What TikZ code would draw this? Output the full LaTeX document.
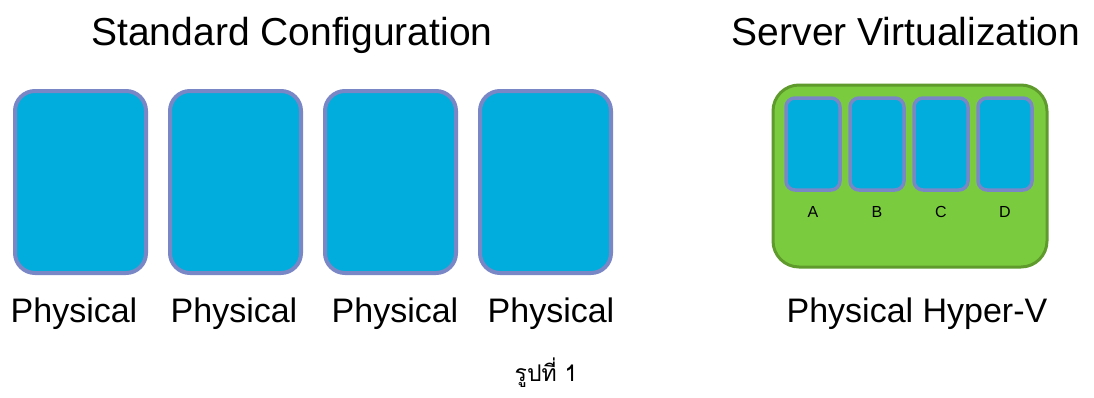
\documentclass[tikz,border=0pt]{standalone}
\usepackage{fontspec}
\setmainfont{Liberation Sans}
\newfontfamily\thaifont[Script=Thai]{Loma}
\definecolor{vmblue}{HTML}{00ADDC}
\definecolor{vmedge}{HTML}{7A87C6}
\definecolor{hostgreen}{HTML}{7ACC3E}
\definecolor{hostedge}{HTML}{5E9A2C}
\begin{document}
\begin{tikzpicture}[x=1pt,y=-1pt,
  server/.style={draw=vmedge, fill=vmblue, line width=4pt, rounded corners=20pt},
  guest/.style={draw=vmedge, fill=vmblue, line width=3.5pt, rounded corners=9pt},
  host/.style={draw=hostedge, fill=hostgreen, line width=3pt, rounded corners=26pt},
  title/.style={font=\fontsize{39}{44}\selectfont, anchor=base, inner sep=0pt},
  caption/.style={font=\fontsize{34}{40}\selectfont, anchor=base, inner sep=0pt},
  tag/.style={font=\fontsize{16}{18}\selectfont, anchor=base, inner sep=0pt}]
\useasboundingbox (0,0) rectangle (1094,397);
% standard configuration: four physical servers
\foreach \i/\x/\c in {1/15/74,2/170/234,3/325/395,4/480/551}{
  \draw[server] (\x,91) rectangle ++(131,182);
  \node[caption] (p\i) at (\c,322) {Physical};
}
\node[title] (t1) at (292,45) {Standard Configuration};
% virtualized host with four guests
\draw[host] (773,85) rectangle (1047,267);
\foreach \i/\x/\l in {1/786/A,2/850/B,3/914/C,4/978/D}{
  \draw[guest] (\x,98) rectangle ++(54,92);
  \node[tag] (g\i) at (\x+27,217) {\l};
}
\node[title] (t2) at (906,45) {Server Virtualization};
\node[caption] (p5) at (917,322) {Physical Hyper-V};
\node[font=\thaifont\fontsize{23}{26}\selectfont, inner sep=0pt, anchor=base] (fig) at (546,381) {รูปที่ 1};
\end{tikzpicture}
\end{document}
